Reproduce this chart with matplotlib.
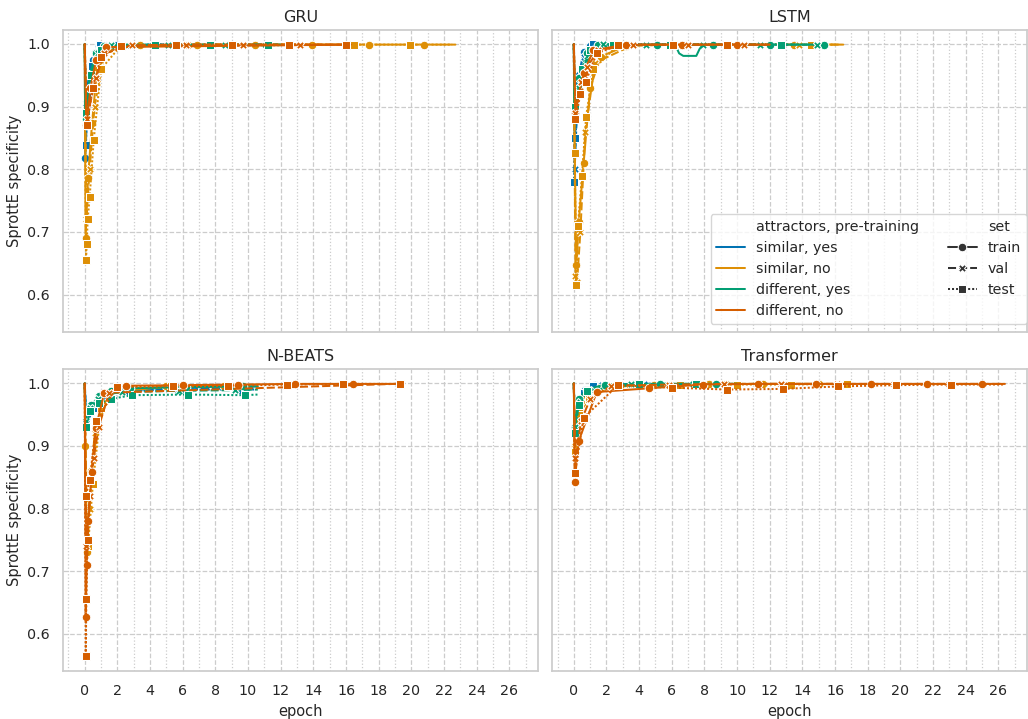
import matplotlib
matplotlib.use('Agg')
import matplotlib.pyplot as plt
from matplotlib.lines import Line2D
from matplotlib.ticker import MultipleLocator
import seaborn as sns

PANELS = ['GRU', 'LSTM', 'N-BEATS', 'Transformer']
CONDITIONS = ['similar, yes', 'similar, no', 'different, yes', 'different, no']
SETS = ['train', 'val', 'test']

# specificity per evaluation step; first point is the untrained model at epoch 0
GRU_SIM_YES = {
    'train': ([0, 0.03, 0.2, 0.5, 0.9, 2.0, 5.0], [1.0, 0.818, 0.92, 0.975, 0.996, 0.998, 0.999]),
    'val': ([0, 0.06, 0.25, 0.6, 1.2, 5.0], [1.0, 0.905, 0.95, 0.985, 0.998, 0.999]),
    'test': ([0, 0.08, 0.12, 0.45, 0.92, 5.0], [1.0, 0.839, 0.916, 0.965, 0.998, 0.999]),
}
GRU_SIM_NO = {
    'train': ([0, 0.05, 0.2, 0.45, 0.75, 1.5, 3.4, 6.9, 10.4, 13.9, 17.4, 20.8, 22.7],
              [1.0, 0.69, 0.786, 0.874, 0.958, 0.993, 0.998, 0.999, 0.999, 0.999, 0.999, 0.999, 0.999]),
    'val': ([0, 0.1, 0.3, 0.6, 1.2, 2.9, 6.3, 9.7, 13.2, 14.5],
            [1.0, 0.72, 0.80, 0.90, 0.985, 0.998, 0.999, 0.999, 0.999, 0.999]),
    'test': ([0, 0.08, 0.12, 0.18, 0.3, 0.55, 1.0, 2.2, 5.6, 9.0, 12.5, 16.5, 19.9, 22.5],
             [1.0, 0.655, 0.68, 0.72, 0.755, 0.847, 0.96, 0.997, 0.999, 0.999, 0.999, 0.999, 0.999, 0.999]),
}
GRU_DIFF_YES = {
    'train': ([0, 0.05, 0.3, 0.7, 1.2, 4.2, 7.6, 11.1, 12.0], [1.0, 0.88, 0.95, 0.985, 0.996, 0.998, 0.998, 0.999, 0.999]),
    'val': ([0, 0.06, 0.35, 0.8, 1.6, 5.1, 8.6, 11.8], [1.0, 0.89, 0.95, 0.985, 0.999, 0.999, 0.999, 0.999]),
    'test': ([0, 0.07, 0.4, 1.0, 4.3, 7.7, 11.2, 12.0], [1.0, 0.89, 0.95, 0.99, 0.998, 0.998, 0.998, 0.998]),
}
GRU_DIFF_NO = {
    'train': ([0, 0.1, 0.35, 0.7, 1.3, 16.3], [1.0, 0.87, 0.93, 0.975, 0.995, 0.999]),
    'val': ([0, 0.12, 0.68, 1.2, 2.9, 6.2, 9.7, 13.2, 16.3], [1.0, 0.88, 0.946, 0.985, 0.998, 0.999, 0.999, 0.999, 0.999]),
    'test': ([0, 0.12, 0.5, 1.0, 2.2, 5.6, 9.0, 12.5, 16.0, 16.3],
             [1.0, 0.87, 0.93, 0.98, 0.997, 0.999, 0.999, 0.999, 0.999, 0.999]),
}

LSTM_SIM_YES = {
    'train': ([0, 0.05, 0.3, 0.6, 1.0, 6.0], [1.0, 0.85, 0.95, 0.987, 0.997, 0.999]),
    'val': ([0, 0.05, 0.25, 0.6, 1.2, 6.0], [1.0, 0.80, 0.93, 0.98, 0.998, 0.999]),
    'test': ([0, 0.04, 0.1, 0.3, 1.15, 6.0], [1.0, 0.78, 0.85, 0.94, 1.0, 0.999]),
}
LSTM_SIM_NO = {
    'train': ([0, 0.02, 0.15, 0.3, 0.6, 1.0, 1.65, 3.2, 6.6, 10.0, 13.5, 16.5],
              [1.0, 0.898, 0.647, 0.716, 0.81, 0.93, 0.98, 0.997, 0.999, 0.999, 0.999, 0.999]),
    'val': ([0, 0.1, 0.2, 0.4, 0.7, 1.3, 3.6, 7.0, 10.4, 13.8, 16.3],
            [1.0, 0.63, 0.62, 0.70, 0.86, 0.97, 0.998, 0.999, 0.999, 0.999, 0.999]),
    'test': ([0, 0.05, 0.15, 0.25, 0.5, 0.75, 1.2, 2.7, 6.1, 9.4, 12.7, 14.5, 16.0],
             [1.0, 0.826, 0.615, 0.71, 0.79, 0.884, 0.96, 0.998, 0.999, 0.999, 0.999, 0.999, 0.999]),
}
LSTM_DIFF_YES = {
    'train': ([0, 0.05, 0.3, 0.8, 1.5, 5.1, 8.5, 12.0, 15.3, 15.35],
              [1.0, 0.89, 0.946, 0.985, 0.998, 0.999, 0.999, 0.999, 0.999, 0.999]),
    'val': ([0, 0.06, 0.3, 0.8, 1.8, 4.4, 7.9, 11.4, 14.9, 15.0],
            [1.0, 0.90, 0.93, 0.975, 1.0, 0.999, 0.999, 0.999, 0.999, 0.999]),
    'test': ([0, 0.05, 0.5, 1.0, 2.4, 5.9, 9.3, 12.7, 13.5], [1.0, 0.90, 0.96, 0.99, 0.999, 0.999, 0.999, 0.999, 0.999]),
}
# short drop of the training curve between two evaluation points
LSTM_DIFF_YES_DIP = ([6.2, 6.45, 6.7, 7.5, 7.7, 7.9], [0.999, 0.985, 0.981, 0.981, 0.992, 0.999])
LSTM_DIFF_NO = {
    'train': ([0, 0.1, 0.3, 0.6, 1.2, 3.2, 6.6, 10.0, 12.0], [1.0, 0.89, 0.92, 0.954, 0.99, 0.999, 0.999, 0.999, 0.999]),
    'val': ([0, 0.1, 0.45, 0.8, 1.5, 3.6, 7.0, 10.4, 12.0], [1.0, 0.89, 0.94, 0.963, 0.99, 0.999, 0.999, 0.999, 0.999]),
    'test': ([0, 0.1, 0.4, 0.73, 1.4, 2.7, 6.1, 9.4, 12.0], [1.0, 0.88, 0.92, 0.94, 0.985, 0.998, 0.999, 0.999, 0.999]),
}

NBEATS_SIM_YES = {
    'train': ([0, 0.08, 0.5, 1.0, 2.0, 5.5, 9.0, 10.5], [1.0, 0.93, 0.965, 0.98, 0.99, 0.993, 0.995, 0.995]),
    'val': ([0, 0.1, 0.6, 1.1, 2.2, 5.7, 9.2, 10.5], [1.0, 0.94, 0.965, 0.978, 0.988, 0.99, 0.992, 0.992]),
    'test': ([0, 0.1, 0.55, 1.2, 2.5, 6.0, 9.5, 10.5], [1.0, 0.935, 0.96, 0.975, 0.988, 0.99, 0.99, 0.99]),
}
NBEATS_SIM_NO = {
    'train': ([0, 0.03, 0.15, 0.4, 0.8, 1.5, 5.0, 8.5, 10.0], [1.0, 0.90, 0.73, 0.86, 0.93, 0.985, 0.995, 0.996, 0.996]),
    'val': ([0, 0.1, 0.3, 0.6, 1.2, 2.0, 5.5, 9.0, 10.0], [1.0, 0.82, 0.80, 0.92, 0.97, 0.99, 0.994, 0.995, 0.995]),
    'test': ([0, 0.05, 0.2, 0.5, 1.0, 1.9, 5.3, 8.8, 10.0], [1.0, 0.82, 0.74, 0.84, 0.96, 0.99, 0.995, 0.996, 0.996]),
}
NBEATS_DIFF_YES = {
    'train': ([0, 0.05, 0.4, 0.9, 1.6, 2.8, 6.2, 9.7, 10.6], [1.0, 0.93, 0.965, 0.98, 0.988, 0.992, 0.994, 0.995, 0.995]),
    'val': ([0, 0.05, 0.3, 0.8, 1.5, 2.3, 5.8, 9.2, 10.6], [1.0, 0.94, 0.96, 0.975, 0.983, 0.986, 0.988, 0.989, 0.99]),
    'test': ([0, 0.05, 0.35, 0.9, 1.6, 2.9, 6.35, 9.8, 10.6], [1.0, 0.93, 0.955, 0.968, 0.975, 0.981, 0.982, 0.981, 0.982]),
}
NBEATS_DIFF_NO = {
    'train': ([0, 0.06, 0.12, 0.23, 0.43, 0.68, 1.2, 2.5, 6.0, 9.4, 12.9, 16.4, 19.3],
              [1.0, 0.627, 0.71, 0.78, 0.858, 0.929, 0.985, 0.996, 0.997, 0.998, 0.999, 0.999, 0.999]),
    'val': ([0, 0.1, 0.3, 0.55, 0.85, 1.5, 19.0], [1.0, 0.74, 0.82, 0.88, 0.93, 0.985, 0.999]),
    'test': ([0, 0.06, 0.1, 0.18, 0.06, 0.31, 0.72, 1.95, 5.4, 8.8, 12.4, 15.8, 19.3, 19.35],
             [1.0, 0.564, 0.655, 0.75, 0.82, 0.846, 0.94, 0.994, 0.995, 0.996, 0.998, 0.999, 0.999, 0.999]),
}

TRANSFORMER_SIM_YES = {
    'train': ([0, 0.05, 0.3, 0.7, 1.3, 4.0, 6.0], [1.0, 0.93, 0.975, 0.99, 0.997, 0.999, 0.999]),
    'val': ([0, 0.05, 0.35, 0.8, 1.5, 4.3, 6.0], [1.0, 0.93, 0.97, 0.988, 0.997, 0.999, 0.999]),
    'test': ([0, 0.05, 0.25, 0.6, 1.2, 3.8, 6.0], [1.0, 0.92, 0.965, 0.985, 0.996, 0.999, 0.999]),
}
TRANSFORMER_SIM_NO = {
    'train': ([0, 0.05, 0.3, 0.8, 1.6, 4.9, 8.3, 11.6, 15.0, 17.0],
              [1.0, 0.90, 0.955, 0.98, 0.993, 0.998, 0.999, 0.999, 0.999, 0.999]),
    'val': ([0, 0.05, 0.35, 0.9, 1.8, 5.8, 9.3, 12.7, 16.2, 17.0],
            [1.0, 0.90, 0.95, 0.978, 0.992, 0.998, 0.999, 0.999, 0.999, 0.999]),
    'test': ([0, 0.05, 0.3, 0.9, 2.2, 6.5, 10.0, 13.3, 16.7, 17.0],
             [1.0, 0.89, 0.95, 0.975, 0.995, 0.998, 0.998, 0.998, 0.999, 0.999]),
}
TRANSFORMER_DIFF_YES = {
    'train': ([0, 0.05, 0.3, 0.8, 1.9, 5.3, 8.7, 10.0], [1.0, 0.93, 0.975, 0.99, 0.998, 0.999, 0.999, 0.999]),
    'val': ([0, 0.05, 0.35, 0.9, 3.5, 7.3, 10.0], [1.0, 0.93, 0.97, 0.99, 0.999, 0.999, 0.999]),
    'test': ([0, 0.05, 0.3, 0.8, 4.0, 7.5, 10.0], [1.0, 0.92, 0.965, 0.988, 0.999, 0.999, 0.999]),
}
TRANSFORMER_DIFF_NO = {
    'train': ([0, 0.05, 0.3, 1.4, 4.6, 7.9, 11.3, 14.8, 18.2, 21.6, 25.0, 26.4],
              [1.0, 0.843, 0.908, 0.986, 0.992, 0.998, 0.999, 0.999, 0.999, 0.999, 0.999, 0.999]),
    'val': ([0, 0.1, 0.45, 1.0, 2.3, 5.8, 9.2, 12.7, 16.1, 19.6, 23.0, 26.3],
            [1.0, 0.88, 0.94, 0.975, 0.996, 0.998, 0.999, 0.999, 0.999, 0.999, 0.999, 0.999]),
    'test': ([0, 0.07, 0.6, 2.7, 6.0, 9.4, 12.8, 16.2, 19.7, 23.1, 26.4],
             [1.0, 0.857, 0.945, 0.997, 0.993, 0.99, 0.991, 0.995, 0.997, 0.998, 0.998]),
}

RUNS = {
    'GRU': [GRU_SIM_YES, GRU_SIM_NO, GRU_DIFF_YES, GRU_DIFF_NO],
    'LSTM': [LSTM_SIM_YES, LSTM_SIM_NO, LSTM_DIFF_YES, LSTM_DIFF_NO],
    'N-BEATS': [NBEATS_SIM_YES, NBEATS_SIM_NO, NBEATS_DIFF_YES, NBEATS_DIFF_NO],
    'Transformer': [TRANSFORMER_SIM_YES, TRANSFORMER_SIM_NO, TRANSFORMER_DIFF_YES, TRANSFORMER_DIFF_NO],
}

sns.set_theme(context='notebook', style='whitegrid')
plt.rcParams['font.family'] = ['DejaVu Sans']
colors = sns.color_palette('colorblind', 4)
markers = {'train': 'o', 'val': 'X', 'test': 's'}
dashes = {'train': (None, None), 'val': (4, 1.5), 'test': (1, 1)}
LW = 1.45
MS = 6.2

fig, axes = plt.subplots(2, 2, figsize=(10.28, 7.19), sharex=True, sharey=True)
fig.subplots_adjust(left=0.0613, right=0.999, top=0.958, bottom=0.067, wspace=0.03, hspace=0.126)

for ax, name in zip(axes.flat, PANELS):
    for color, run in zip(colors, RUNS[name]):
        for s in SETS:
            x, y = run[s]
            kw = dict(color=color, lw=LW, marker=markers[s], ms=MS, mec='w', mew=0.75,
                      markevery=slice(1, -1))
            if s != 'train':
                kw['dashes'] = dashes[s]
            ax.plot(x, y, **kw)
        if run is LSTM_DIFF_YES:
            ax.plot(*LSTM_DIFF_YES_DIP, color=color, lw=LW)

    ax.set_title(name, fontsize=11.5)
    ax.xaxis.set_major_locator(MultipleLocator(2))
    ax.xaxis.set_minor_locator(MultipleLocator(1))
    ax.grid(True, which='major', ls='--', color='.8', lw=0.9)
    ax.grid(True, which='minor', axis='x', ls=':', color='.8', lw=0.9)
    ax.tick_params(labelsize=10.3)
    for sp in ax.spines.values():
        sp.set_color('.8')

axes[0, 0].set_xlim(-1.33, 27.75)
axes[0, 0].set_ylim(0.541, 1.022)
axes[0, 0].set_yticks([0.6, 0.7, 0.8, 0.9, 1.0])
for ax in axes[:, 0]:
    ax.set_ylabel('SprottE specificity', fontsize=10.5)
for ax in axes[1, :]:
    ax.set_xlabel('epoch', fontsize=10.5)

blank = Line2D([], [], color='none')
handles = [blank] + [Line2D([], [], color=c, lw=LW) for c in colors]
handles += [blank]
for s in SETS:
    kw = dict(color='.2', lw=LW, marker=markers[s], ms=MS, mec='w', mew=0.75)
    if s != 'train':
        kw['dashes'] = dashes[s]
    handles.append(Line2D([], [], **kw))
handles.append(blank)
labels = ['attractors, pre-training'] + CONDITIONS + ['set'] + SETS + ['']

axes[0, 1].legend(handles, labels, ncol=2, loc='lower right', bbox_to_anchor=(1.0, 0.025),
                  borderaxespad=0, fontsize=10.3)

fig.savefig('out.png', dpi=100)
